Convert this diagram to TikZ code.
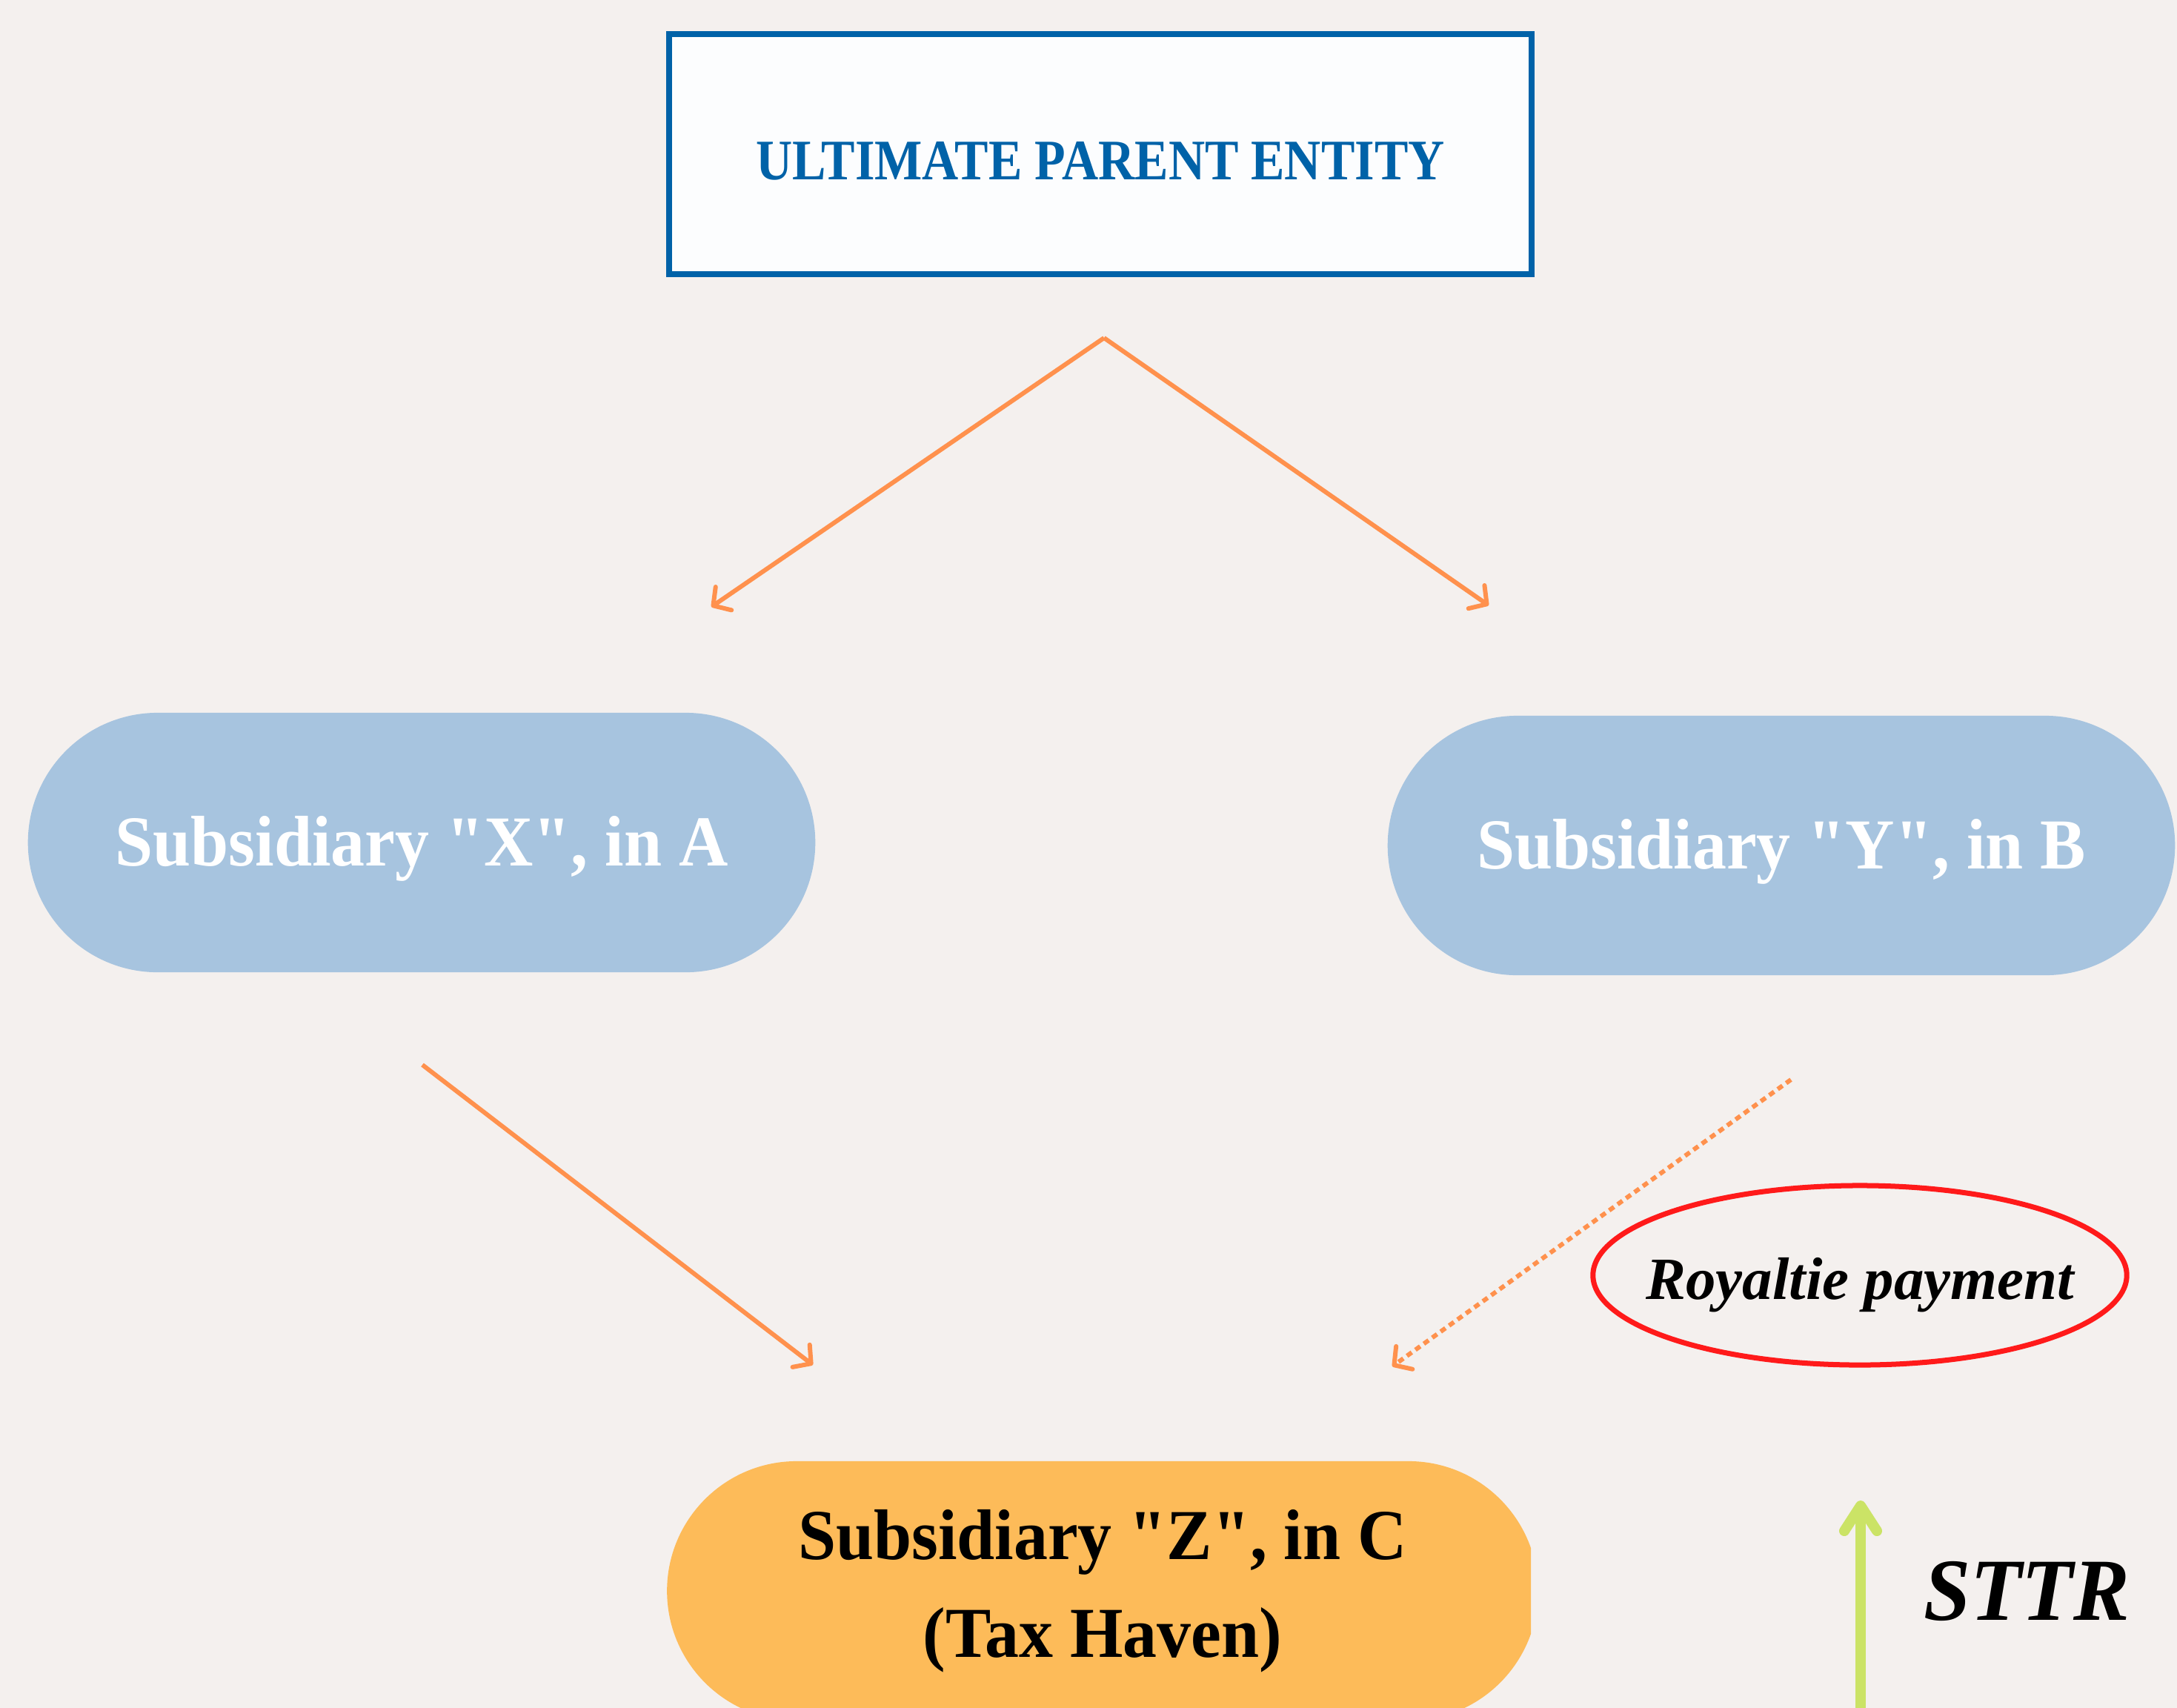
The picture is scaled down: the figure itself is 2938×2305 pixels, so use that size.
\documentclass[tikz,border=0pt]{standalone}
\usepackage{fontspec}
\setmainfont{Liberation Serif}
\newfontfamily\fA[FakeStretch=0.88]{Liberation Serif}
\newfontfamily\fB[FakeStretch=0.95]{Liberation Serif}
\usetikzlibrary{arrows.meta,shapes.geometric}
\definecolor{bg}{HTML}{F4F0EE}
\definecolor{upeblue}{HTML}{0062A8}
\definecolor{boxwhite}{HTML}{FCFDFE}
\definecolor{pillblue}{HTML}{A7C4DF}
\definecolor{pillorange}{HTML}{FDBB59}
\definecolor{arrorange}{HTML}{FF914D}
\definecolor{royred}{HTML}{FF1A1A}
\definecolor{sttrgreen}{HTML}{CBE366}
\tikzset{
  topbox/.style={draw=upeblue, line width=0.08cm, fill=boxwhite, minimum width=11.63cm,
    minimum height=3.23cm, inner sep=0pt, text=upeblue, text height=0.68cm, text depth=0pt,
    font=\fA\bfseries\fontsize{22}{26}\selectfont},
  pill/.style={draw=none, inner sep=0pt, minimum height=3.5cm, rounded corners=1.75cm},
  bluepill/.style={pill, fill=pillblue, minimum width=10.62cm, text=white,
    text height=0.62cm, text depth=0pt, font=\fB\bfseries\fontsize{27.5}{33}\selectfont},
  orangepill/.style={pill, fill=pillorange, minimum width=11.75cm, text=black, align=center,
    font=\fB\bfseries\fontsize{27.5}{37.6}\selectfont},
  orangearrow/.style={draw=arrorange, line width=0.06cm,
    -{Straight Barb[length=0.17cm,width=0.38cm,round]}},
  dottedarrow/.style={orangearrow, dash pattern=on 0.08cm off 0.06cm},
  royellipse/.style={ellipse, draw=royred, line width=0.07cm, minimum width=7.2cm,
    minimum height=2.42cm, inner sep=0pt, text height=0.64cm, text depth=0pt,
    font=\bfseries\itshape\fontsize{23}{27}\selectfont},
  sttrarrow/.style={draw=sttrgreen, line width=0.14cm, line cap=round,
    -{Straight Barb[length=0.34cm,width=0.44cm,round]}}
}
\begin{document}
\begin{tikzpicture}[x=0.01cm,y=-0.01cm]
\path[use as bounding box, fill=bg] (0,0) rectangle (2938,2305);
\clip (0,0) rectangle (2938,2305);

\node[topbox] (upe) at (1485,208) {ULTIMATE PARENT ENTITY};
\node[bluepill] (subx) at (569,1137) {Subsidiary "X", in A};
\node[bluepill] (suby) at (2404,1141) {Subsidiary "Y", in B};
\begin{scope}
\clip (0,0) rectangle (2066,2305);
\node[orangepill] (subz) at (1488,2147) {Subsidiary "Z", in C\\(Tax Haven)};
\end{scope}
\node[royellipse] (roy) at (2510,1721) {\makebox[0pt]{Royaltie payment}};
\node[anchor=base, font=\fB\bfseries\itshape\fontsize{34}{40}\selectfont] (sttr) at (2735,2186) {STTR};

\coordinate (apex) at (1490,456);
\coordinate (xin) at (960,819);
\coordinate (yin) at (2009,817);
\coordinate (xout) at (570,1437);
\coordinate (zinl) at (1097,1842);
\coordinate (yout) at (2417,1457);
\coordinate (zinr) at (1879,1844);
\coordinate (sttrtail) at (2511,2340);
\coordinate (sttrtip) at (2511,2025);

\draw[orangearrow] (apex) -- (xin);
\draw[orangearrow] (apex) -- (yin);
\draw[orangearrow] (xout) -- (zinl);
\draw[dottedarrow] (yout) -- (zinr);
\draw[sttrarrow] (sttrtail) -- (sttrtip);
\end{tikzpicture}
\end{document}
